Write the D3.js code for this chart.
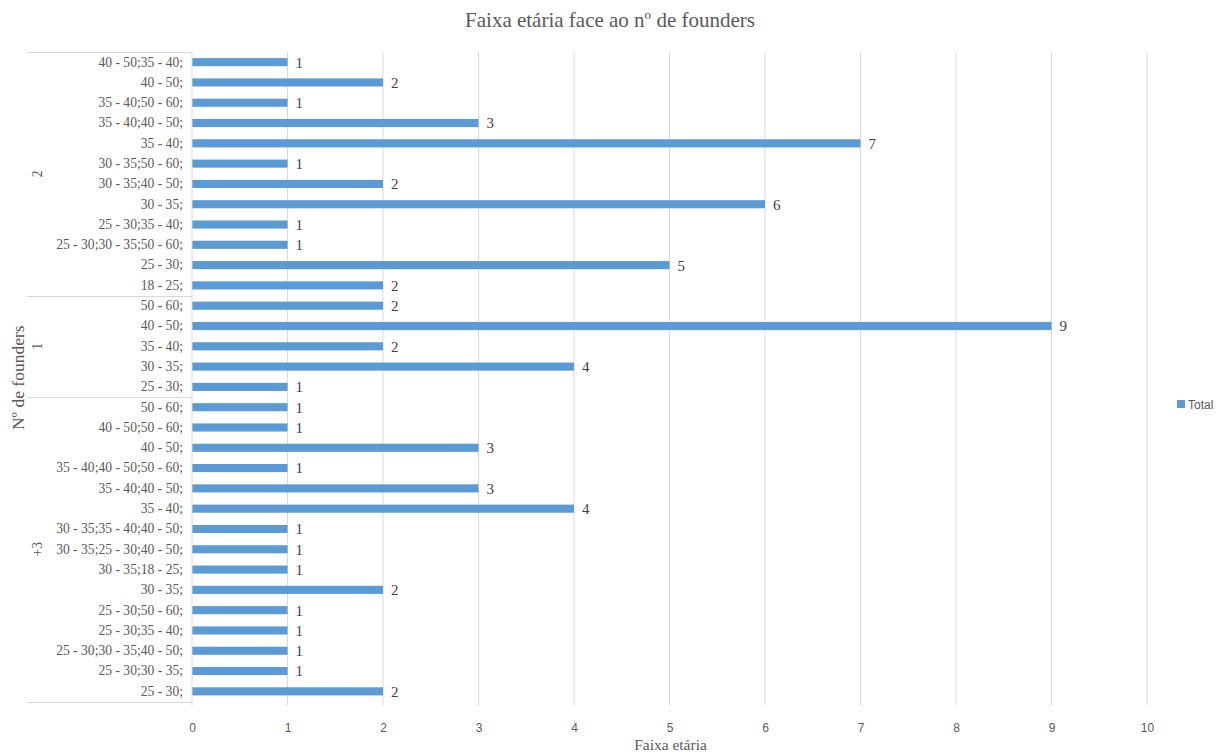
<!DOCTYPE html>
<html>
<head>
<meta charset="utf-8">
<script src="https://cdn.jsdelivr.net/npm/d3@7"></script>
<style>
  html, body { margin: 0; padding: 0; background: #ffffff; }
  svg { display: block; }
</style>
</head>
<body>
<svg id="chart" width="1220" height="753"></svg>
<script>
// Founder-count groups, listed top to bottom
const groupNames = ["2", "1", "+3"];

// Age-range combinations within each group (top to bottom)
const catsTwo = [
  "40 - 50;35 - 40;", "40 - 50;", "35 - 40;50 - 60;", "35 - 40;40 - 50;",
  "35 - 40;", "30 - 35;50 - 60;", "30 - 35;40 - 50;", "30 - 35;",
  "25 - 30;35 - 40;", "25 - 30;30 - 35;50 - 60;", "25 - 30;", "18 - 25;"
];
const valsTwo = [1, 2, 1, 3, 7, 1, 2, 6, 1, 1, 5, 2];

const catsOne = ["50 - 60;", "40 - 50;", "35 - 40;", "30 - 35;", "25 - 30;"];
const valsOne = [2, 9, 2, 4, 1];

const catsThreePlus = [
  "50 - 60;", "40 - 50;50 - 60;", "40 - 50;", "35 - 40;40 - 50;50 - 60;",
  "35 - 40;40 - 50;", "35 - 40;", "30 - 35;35 - 40;40 - 50;",
  "30 - 35;25 - 30;40 - 50;", "30 - 35;18 - 25;", "30 - 35;",
  "25 - 30;50 - 60;", "25 - 30;35 - 40;", "25 - 30;30 - 35;40 - 50;",
  "25 - 30;30 - 35;", "25 - 30;"
];
const valsThreePlus = [1, 1, 3, 1, 3, 4, 1, 1, 1, 2, 1, 1, 1, 1, 2];

const xTicks = [0, 1, 2, 3, 4, 5, 6, 7, 8, 9, 10];

const groupCats = [catsTwo, catsOne, catsThreePlus];
const groupVals = [valsTwo, valsOne, valsThreePlus];

// Flatten into rows with a unique key per bar
const rows = [];
groupNames.forEach((g, gi) => {
  groupCats[gi].forEach((c, ci) => {
    rows.push({ key: g + "|" + c, group: g, cat: c, value: groupVals[gi][ci] });
  });
});

const svg = d3.select("#chart");
const plot = { left: 192, right: 1147, top: 52, bottom: 701.5 };

const x = d3.scaleLinear().domain([0, 10]).range([plot.left, plot.right]);
const y = d3.scaleBand()
  .domain(rows.map(r => r.key))
  .range([plot.top, plot.bottom])
  .paddingInner(0.6)
  .paddingOuter(0.3);

const serif = "'Liberation Serif', 'Times New Roman', serif";
const sans = "'Liberation Sans', Arial, sans-serif";

// Title
svg.append("text")
  .attr("x", 610).attr("y", 27)
  .attr("text-anchor", "middle")
  .attr("font-family", serif).attr("font-size", 21)
  .attr("fill", "#595959")
  .text("Faixa etária face ao nº de founders");

// Vertical gridlines
svg.append("g")
  .selectAll("line")
  .data(xTicks.filter(t => t > 0))
  .join("line")
  .attr("x1", d => x(d)).attr("x2", d => x(d))
  .attr("y1", plot.top).attr("y2", plot.bottom + 4)
  .attr("stroke", "#d9d9d9").attr("stroke-width", 1);

// X axis tick labels
const xAxis = d3.axisBottom(x).tickValues(xTicks).tickSize(0).tickPadding(0).tickFormat(d3.format("d"));
const gx = svg.append("g")
  .attr("transform", `translate(0,${plot.bottom + 22})`)
  .call(xAxis);
gx.select(".domain").remove();
gx.selectAll("text")
  .attr("font-family", sans).attr("font-size", 12)
  .attr("fill", "#595959");

// X axis title
svg.append("text")
  .attr("x", (plot.left + plot.right) / 2 + 1).attr("y", 750)
  .attr("text-anchor", "middle")
  .attr("font-family", serif).attr("font-size", 15.5)
  .attr("fill", "#595959")
  .text("Faixa etária");

// Bars
svg.append("g")
  .selectAll("rect")
  .data(rows)
  .join("rect")
  .attr("x", x(0))
  .attr("y", d => y(d.key))
  .attr("width", d => x(d.value) - x(0))
  .attr("height", y.bandwidth())
  .attr("fill", "#5b9bd5");

// Value labels
svg.append("g")
  .selectAll("text")
  .data(rows)
  .join("text")
  .attr("x", d => x(d.value) + 8)
  .attr("y", d => y(d.key) + y.bandwidth() / 2)
  .attr("dy", "0.36em")
  .attr("font-family", serif).attr("font-size", 15)
  .attr("fill", "#404040")
  .text(d => d.value);

// Category labels (inner level of the axis)
const yAxis = d3.axisLeft(y).tickSize(0).tickPadding(9).tickFormat(k => k.split("|")[1]);
const gy = svg.append("g")
  .attr("transform", `translate(${plot.left},0)`)
  .call(yAxis);
gy.select(".domain").remove();
gy.selectAll("text")
  .attr("font-family", serif).attr("font-size", 13.6)
  .attr("fill", "#595959");

// Axis line
const axisColor = "#d9d9d9";
svg.append("line")
  .attr("x1", plot.left).attr("x2", plot.left)
  .attr("y1", plot.top).attr("y2", plot.bottom + 4)
  .attr("stroke", axisColor);

// Row ranges for each group
let start = 0;
const bounds = [];
groupNames.forEach((g, gi) => {
  const n = groupCats[gi].length;
  bounds.push({ g, start, n });
  start += n;
});

// Boundary positions between rows, based on the band scale
const rowEdge = i => {
  if (i === 0) return plot.top;
  if (i === rows.length) return plot.bottom;
  return (y(rows[i - 1].key) + y.bandwidth() + y(rows[i].key)) / 2;
};

// Group separators of the outer axis level
const edges = [0];
bounds.forEach(b => edges.push(b.start + b.n));
svg.append("g")
  .selectAll("line")
  .data(edges)
  .join("line")
  .attr("x1", 27).attr("x2", plot.left)
  .attr("y1", d => Math.round(rowEdge(d)) + 0.5)
  .attr("y2", d => Math.round(rowEdge(d)) + 0.5)
  .attr("stroke", axisColor);

// Group labels (outer level of the axis)
svg.append("g")
  .selectAll("text")
  .data(bounds)
  .join("text")
  .attr("transform", b => {
    const cy = (rowEdge(b.start) + rowEdge(b.start + b.n)) / 2;
    return `translate(42,${cy}) rotate(-90)`;
  })
  .attr("text-anchor", "middle")
  .attr("font-family", serif).attr("font-size", 13.6)
  .attr("fill", "#595959")
  .text(b => b.g);

// Y axis title
svg.append("text")
  .attr("transform", `translate(24,${(plot.top + plot.bottom) / 2 + 1}) rotate(-90)`)
  .attr("text-anchor", "middle")
  .attr("font-family", serif).attr("font-size", 17.5)
  .attr("fill", "#595959")
  .text("Nº de founders");

// Legend
const legend = svg.append("g").attr("transform", "translate(1177,400)");
legend.append("rect").attr("width", 8).attr("height", 8).attr("fill", "#5b9bd5");
legend.append("text")
  .attr("x", 11).attr("y", 8.5)
  .attr("font-family", sans).attr("font-size", 12)
  .attr("fill", "#595959")
  .text("Total");
</script>
</body>
</html>
